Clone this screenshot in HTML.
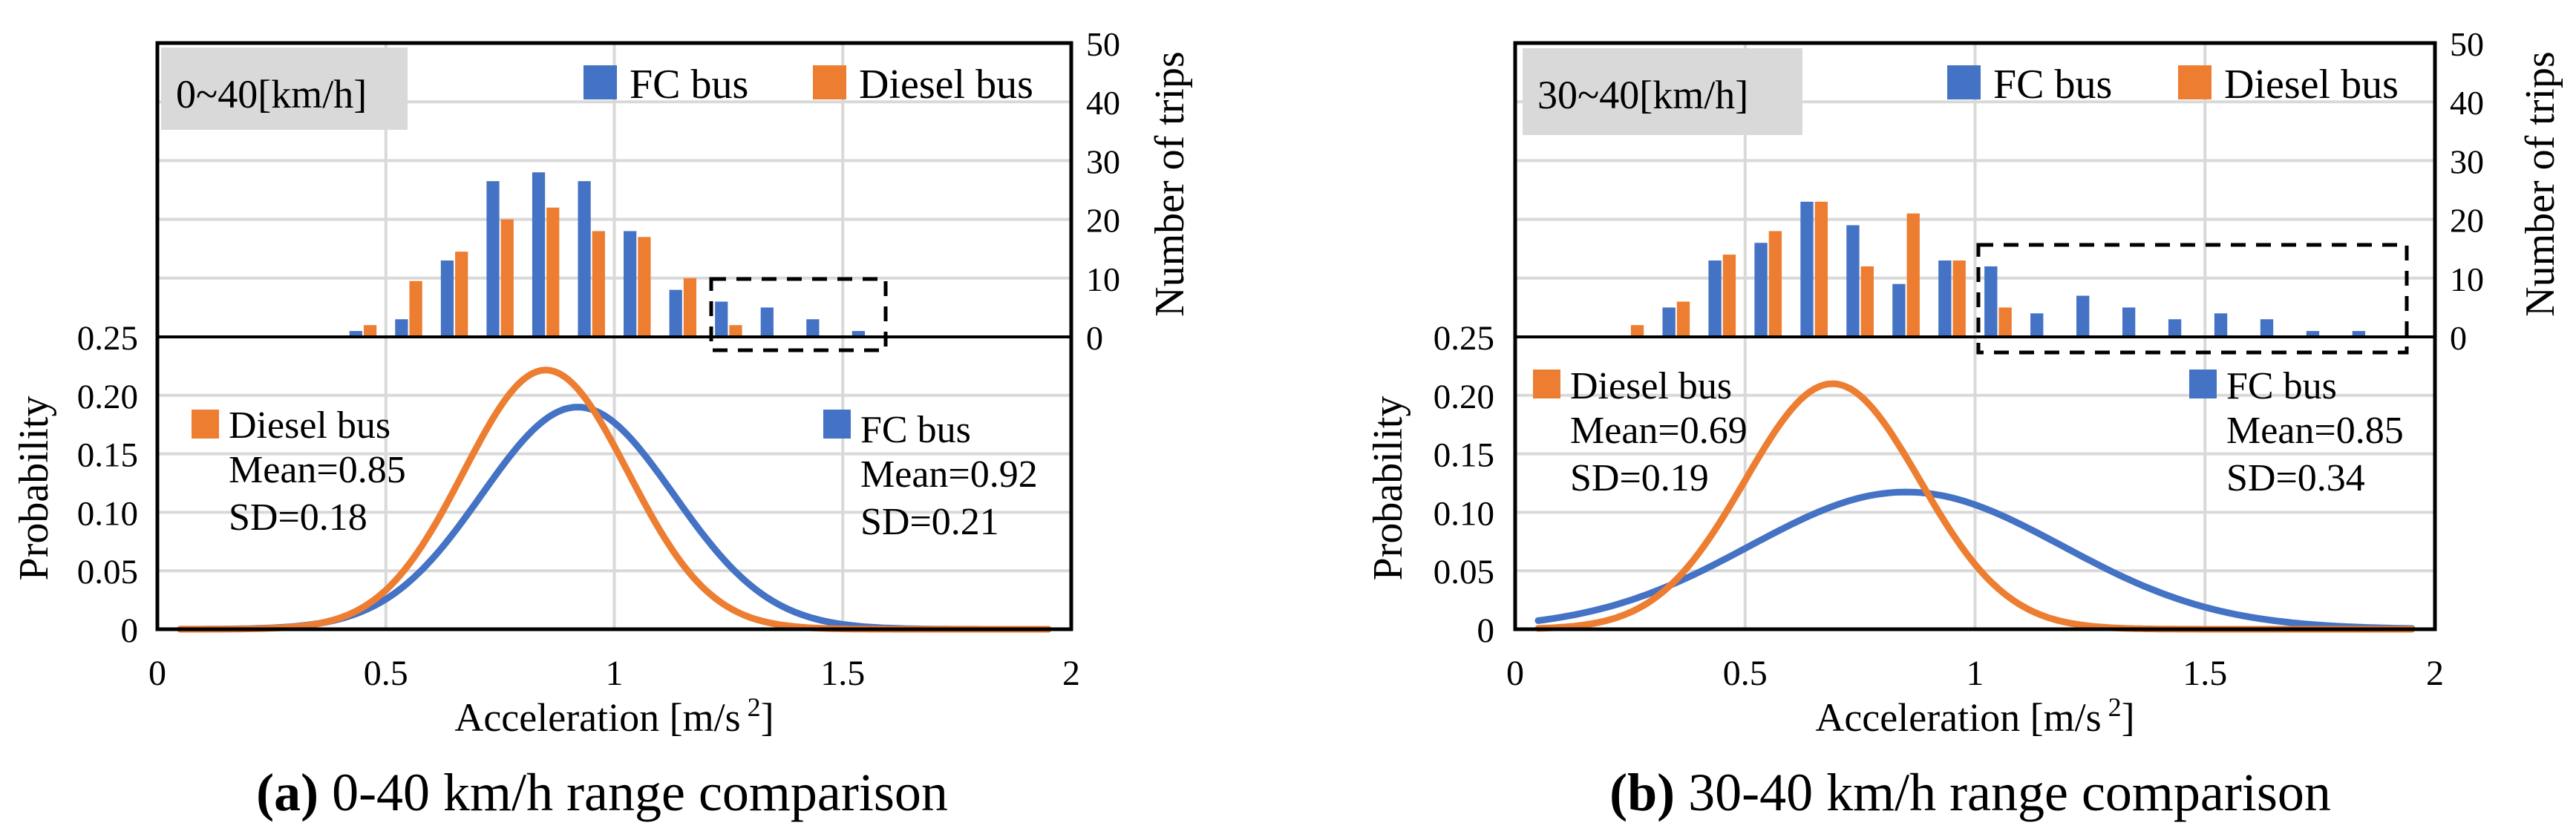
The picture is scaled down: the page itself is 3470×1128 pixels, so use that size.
<!DOCTYPE html>
<html><head><meta charset="utf-8">
<style>
html,body{margin:0;padding:0;background:#fff;}
svg{display:block;}
text{font-family:"Liberation Serif",serif;fill:#000;}
</style></head>
<body>
<svg id="chart" width="3470" height="1128" viewBox="0 0 3470 1128" xmlns="http://www.w3.org/2000/svg"></svg>
<script>
// ---- data ----
const binsA = [0.45,0.55,0.65,0.75,0.85,0.95,1.05,1.15,1.25,1.35,1.45,1.55];
const fcTripsA = [1,3,13,26.5,28,26.5,18,8,6,5,3,1];
const dieselTripsA = [2,9.5,14.5,20,22,18,17,10,2,0,0,0];
const binsB = [0.25,0.35,0.45,0.55,0.65,0.75,0.85,0.95,1.05,1.15,1.25,1.35,1.45,1.55,1.65,1.75,1.85];
const fcTripsB = [0,5,13,16,23,19,9,13,12,4,7,5,3,4,3,1,1];
const dieselTripsB = [2,6,14,18,23,12,21,13,5,0,0,0,0,0,0,0,0];
const fcMean = [0.92,0.85];
const fcSD = [0.21,0.34];
const dieselMean = [0.85,0.69];
const dieselSD = [0.18,0.19];
const xTicks = [0,0.5,1,1.5,2];
const xTickLabels = ["0","0.5","1","1.5","2"];
const probTicks = [0,0.05,0.10,0.15,0.20,0.25];
const probTickLabels = ["0","0.05","0.10","0.15","0.20","0.25"];
const tripTicks = [0,10,20,30,40,50];
const tripTickLabels = ["0","10","20","30","40","50"];
const speedLabels = ["0~40[km/h]","30~40[km/h]"];
const captionsBold = ["(a)","(b)"];
const captionsRest = [" 0-40 km/h range comparison"," 30-40 km/h range comparison"];

const BLUE="#4472C4", ORANGE="#ED7D31", GRID="#d9d9d9";
const NS="http://www.w3.org/2000/svg";
const svg=document.getElementById('chart');
function mk(tag,attrs,parent){const e=document.createElementNS(NS,tag);for(const k in attrs)e.setAttribute(k,attrs[k]);(parent||svg).appendChild(e);return e;}

const panels=[
 {x0:212,x1:1443,bins:binsA,fc:fcTripsA,di:dieselTripsA,dash:[958,376,1193,472],
  gray:[217,64,549,175],legUp:[786,1095],legLow:[[258,552,590],[1109,552,596]],ylab:44,rtick:1463,rtitle:1574,ytickR:186,cap:811},
 {x0:2041,x1:3280,bins:binsB,fc:fcTripsB,di:dieselTripsB,dash:[2665,330,3242,475],
  gray:[2051,65,2428,182],legUp:[2623,2934],legLow:[[2065,498,537],[2949,498,537]],ylab:1868,rtick:3300,rtitle:3420,ytickR:2013,cap:2654}
];
const yTop=58, yMid=454, yBot=848;

panels.forEach((p,i)=>{
  const g=mk('g',{});
  
  
  const xs=v=>p.x0+(p.x1-p.x0)*v/2;
  const yp=v=>yBot-(yBot-yMid)*v/0.25;
  const yt=v=>yMid-(yMid-yTop)*v/50;
  // gridlines
  xTicks.slice(1,-1).forEach(t=>{const l=mk('line',{x1:xs(t),x2:xs(t),y1:yTop,y2:yBot,stroke:GRID,'stroke-width':4},g);
    });
  probTicks.slice(1,-1).forEach(t=>{const l=mk('line',{x1:p.x0,x2:p.x1,y1:yp(t),y2:yp(t),stroke:GRID,'stroke-width':4},g);
    });
  tripTicks.slice(1,-1).forEach(t=>{const l=mk('line',{x1:p.x0,x2:p.x1,y1:yt(t),y2:yt(t),stroke:GRID,'stroke-width':4},g);
    });
  // gray label box (drawn over gridlines)
  const gb=mk('rect',{x:p.gray[0],y:p.gray[1],width:p.gray[2]-p.gray[0],height:p.gray[3]-p.gray[1],fill:'#d9d9d9'},g);
  
  
  const gt=mk('text',{x:p.gray[0]+20,y:p.gray[1]+81,'font-size':54},g);
  gt.textContent=speedLabels[i];
  
  
  // bars
  const bw=(p.x1-p.x0)/2*0.028;
  p.bins.forEach((b,k)=>{
    const cx=xs(b);
    if(p.fc[k]>0){const r=mk('rect',{x:cx-bw-1,y:yt(p.fc[k]),width:bw,height:yMid-yt(p.fc[k]),fill:BLUE},g);
      }
    if(p.di[k]>0){const r=mk('rect',{x:cx+1,y:yt(p.di[k]),width:bw,height:yMid-yt(p.di[k]),fill:ORANGE},g);
      }
  });
  // curves
  function curve(m,s,col,name){
    let d='';
    for(let x=0.05;x<=1.9501;x+=0.01){const v=0.1*Math.exp(-0.5*((x-m)/s)**2)/(s*Math.sqrt(2*Math.PI));
      d+=(d?'L':'M')+xs(x).toFixed(1)+','+yp(v).toFixed(1);}
    const c=mk('path',{d:d,fill:'none',stroke:col,'stroke-width':9,'stroke-linecap':'round'},g);
    
  }
  curve(fcMean[i],fcSD[i],BLUE,'fc-bus-curve');
  curve(dieselMean[i],dieselSD[i],ORANGE,'diesel-bus-curve');
  // axes frame
  const fr=mk('path',{d:`M${p.x0},${yBot}L${p.x0},${yTop}L${p.x1},${yTop}L${p.x1},${yBot}Z`,fill:'none',stroke:'#000','stroke-width':5},g);
  
  const dv=mk('line',{x1:p.x0,x2:p.x1,y1:yMid,y2:yMid,stroke:'#000','stroke-width':4},g);
  
  // dashed box
  const db=mk('rect',{x:p.dash[0],y:p.dash[1],width:p.dash[2]-p.dash[0],height:p.dash[3]-p.dash[1],fill:'none',stroke:'#000','stroke-width':5,'stroke-dasharray':'20,14'},g);
  
  // tick labels
  xTicks.forEach((t,k)=>{const tx=mk('text',{x:xs(t),y:923,'font-size':48,'text-anchor':'middle'},g);tx.textContent=xTickLabels[k];
    });
  probTicks.forEach((t,k)=>{const tx=mk('text',{x:p.ytickR,y:yp(t)+17,'font-size':47,'text-anchor':'end'},g);tx.textContent=probTickLabels[k];
    });
  tripTicks.forEach((t,k)=>{const tx=mk('text',{x:p.x1+20,y:yt(t)+17,'font-size':46},g);tx.textContent=tripTickLabels[k];
    });
  // axis titles
  const xt=mk('text',{x:(p.x0+p.x1)/2,y:985,'font-size':54,'text-anchor':'middle'},g);
  xt.innerHTML='Acceleration [m/s<tspan dy="-20" font-size="36"> 2</tspan><tspan dy="20">]</tspan>';
  
  const pt=mk('text',{x:0,y:0,'font-size':56,'text-anchor':'middle',transform:`translate(${p.ylab+20},658) rotate(-90)`},g);
  pt.textContent='Probability';
  
  const nt=mk('text',{x:0,y:0,'font-size':56,'text-anchor':'middle',transform:`translate(${p.rtitle+20},248) rotate(-90)`},g);
  nt.textContent='Number of trips';
  
  // upper legend
  [[BLUE,'FC bus'],[ORANGE,'Diesel bus']].forEach((e,k)=>{
    const lx=p.legUp[k];
    const r=mk('rect',{x:lx,y:88,width:45,height:46,fill:e[0]},g);
    
    const t=mk('text',{x:lx+62,y:132,'font-size':56},g);t.textContent=e[1];
    
  });
  // lower legends with stats
  [[ORANGE,'Diesel bus',dieselMean[i],dieselSD[i]],[BLUE,'FC bus',fcMean[i],fcSD[i]]].forEach((e,k)=>{
    const L=p.legLow[k];
    const r=mk('rect',{x:L[0],y:L[1],width:37,height:39,fill:e[0]},g);
    
    const t1=mk('text',{x:L[0]+50,y:L[2],'font-size':52},g);t1.textContent=e[1];
    
    const t2=mk('text',{x:L[0]+50,y:L[2]+60,'font-size':52},g);t2.textContent='Mean='+e[2].toFixed(2);
    
    const t3=mk('text',{x:L[0]+50,y:L[2]+124,'font-size':52},g);t3.textContent='SD='+e[3].toFixed(2);
    
  });
  // caption
  const cp=mk('text',{x:p.cap,y:1092,'font-size':72,'text-anchor':'middle'},g);
  cp.innerHTML='<tspan font-weight="bold">'+captionsBold[i]+'</tspan>'+captionsRest[i];
  
});
</script>
</body></html>
